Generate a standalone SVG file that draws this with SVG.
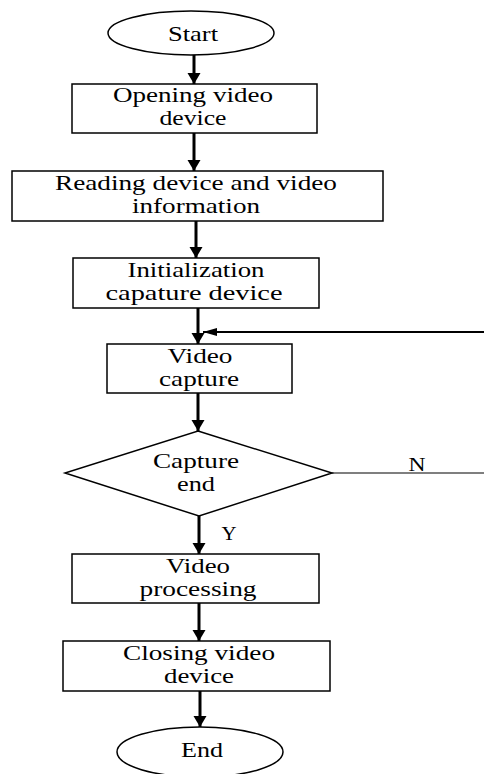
<svg xmlns="http://www.w3.org/2000/svg" width="484" height="774" viewBox="0 0 484 774">
<style>
.box{fill:#fff;stroke:#000;stroke-width:1.5}
.t{font-family:"Liberation Serif","Times New Roman",serif;font-size:22px;fill:#000;text-anchor:middle}
.lbl{font-family:"Liberation Serif","Times New Roman",serif;font-size:18px;fill:#000;text-anchor:middle}
.arr{fill:none;stroke:#000;stroke-width:3;marker-end:url(#ah)}
.fb{fill:none;stroke:#000;stroke-width:2;marker-end:url(#ah2)}
.ln{fill:none;stroke:#000;stroke-width:1.2}
</style>
<defs>
<marker id="ah" markerUnits="userSpaceOnUse" markerWidth="14" markerHeight="14" refX="11" refY="6.5" orient="auto"><path d="M0,0 L11,6.5 L0,13 z" fill="#000"/></marker>
<marker id="ah2" markerUnits="userSpaceOnUse" markerWidth="16" markerHeight="10" refX="14" refY="4" orient="auto"><path d="M0,0 L14,4 L0,8 z" fill="#000"/></marker>
</defs>
<rect width="484" height="774" fill="#fff"/>
<g id="connectors">
<path class="arr" d="M194,55 V84"/>
<path class="arr" d="M194,133 V171"/>
<path class="arr" d="M196,221 V258"/>
<path class="arr" d="M198,308 V344"/>
<path class="fb" d="M484,332 H203"/>
<path class="arr" d="M198,393 V431"/>
<path class="ln" d="M332,473 H484"/>
<text class="lbl" x="417" y="471" textLength="17" lengthAdjust="spacingAndGlyphs">N</text>
<path class="arr" d="M199,516 V554"/>
<text class="lbl" x="229" y="540" textLength="15" lengthAdjust="spacingAndGlyphs">Y</text>
<path class="arr" d="M199,603 V641"/>
<path class="arr" d="M200,691 V727"/>
</g>
<g id="start">
<ellipse class="box" cx="191" cy="33" rx="83" ry="22"/>
<text class="t" x="193" y="41" textLength="50" lengthAdjust="spacingAndGlyphs">Start</text>
</g>
<g id="open">
<rect class="box" x="72" y="84" width="245" height="49"/>
<text class="t" x="193" y="102" textLength="160" lengthAdjust="spacingAndGlyphs">Opening video</text>
<text class="t" x="193" y="125" textLength="67" lengthAdjust="spacingAndGlyphs">device</text>
</g>
<g id="read">
<rect class="box" x="12" y="171" width="371" height="50"/>
<text class="t" x="196" y="190" textLength="282" lengthAdjust="spacingAndGlyphs">Reading device and video</text>
<text class="t" x="196" y="213" textLength="128" lengthAdjust="spacingAndGlyphs">information</text>
</g>
<g id="init">
<rect class="box" x="73" y="258" width="246" height="50"/>
<text class="t" x="196" y="277" textLength="137" lengthAdjust="spacingAndGlyphs">Initialization</text>
<text class="t" x="194" y="300" textLength="177" lengthAdjust="spacingAndGlyphs">capature device</text>
</g>
<g id="capture">
<rect class="box" x="107" y="344" width="185" height="49"/>
<text class="t" x="200" y="363" textLength="65" lengthAdjust="spacingAndGlyphs">Video</text>
<text class="t" x="199" y="386" textLength="80" lengthAdjust="spacingAndGlyphs">capture</text>
</g>
<g id="decision">
<path class="box" d="M198,431 L332,473 L199,516 L65,473 z"/>
<text class="t" x="196" y="468" textLength="86" lengthAdjust="spacingAndGlyphs">Capture</text>
<text class="t" x="196" y="491" textLength="38" lengthAdjust="spacingAndGlyphs">end</text>
</g>
<g id="process">
<rect class="box" x="72" y="554" width="247" height="49"/>
<text class="t" x="198" y="573" textLength="64" lengthAdjust="spacingAndGlyphs">Video</text>
<text class="t" x="198" y="596" textLength="117" lengthAdjust="spacingAndGlyphs">processing</text>
</g>
<g id="close">
<rect class="box" x="63" y="641" width="267" height="50"/>
<text class="t" x="199" y="660" textLength="152" lengthAdjust="spacingAndGlyphs">Closing video</text>
<text class="t" x="199" y="683" textLength="70" lengthAdjust="spacingAndGlyphs">device</text>
</g>
<g id="end">
<ellipse class="box" cx="200" cy="752" rx="83" ry="25"/>
<text class="t" x="202" y="757" textLength="42" lengthAdjust="spacingAndGlyphs">End</text>
</g>
</svg>
